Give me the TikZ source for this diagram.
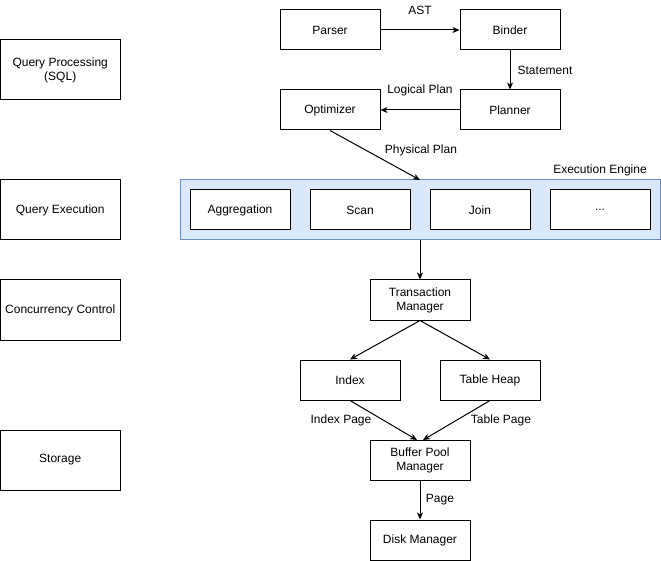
\documentclass[tikz,border=0pt]{standalone}
\usepackage{fontspec}
\setmainfont{Liberation Sans}
\usetikzlibrary{arrows.meta}
\definecolor{engfill}{HTML}{DAE8FC}
\definecolor{engdraw}{HTML}{6C8EBF}
\begin{document}
\begin{tikzpicture}[x=1pt,y=-1pt,
  font=\fontsize{12}{14}\selectfont,
  box/.style={draw=black,line width=1pt,fill=white,minimum width=100pt,minimum height=40pt,inner sep=0pt,align=center},
  layer/.style={box,minimum width=119.5pt,minimum height=60pt},
  lbl/.style={inner sep=0pt,align=center},
  conn/.style={line width=1pt,-{Stealth[length=7pt,width=6pt,inset=2pt]}}]
\useasboundingbox (0,0) rectangle (661,561);
% layer boxes
\node[layer] (qp) at (60.25,70) {Query Processing\\(SQL)};
\node[layer] (qe) at (60.25,210) {Query Execution};
\node[layer] (cc) at (60.25,310) {Concurrency Control};
\node[layer] (st) at (60.25,460) {Storage};
% query processing
\node[box] (parser) at (330,30) {Parser};
\node[box] (binder) at (510,30) {Binder};
\node[box] (optimizer) at (330,110) {Optimizer};
\node[box] (planner) at (510,110) {Planner};
% execution engine
\node[draw=engdraw,fill=engfill,line width=1pt,minimum width=480pt,minimum height=60pt,inner sep=0pt] (engine) at (420,210) {};
\node[lbl] (englbl) at (600,170) {Execution Engine};
\node[box] (agg) at (240,210) {Aggregation};
\node[box] (scan) at (360,210) {Scan};
\node[box] (join) at (480,210) {Join};
\node[box] (etc) at (600,210) {...};
% lower part
\node[box] (tm) at (420,300) {Transaction\\Manager};
\node[box] (index) at (350,380) {Index};
\node[box] (heap) at (490,380) {Table Heap};
\node[box] (bpm) at (420,460) {Buffer Pool\\Manager};
\node[box] (disk) at (420,540) {Disk Manager};
\coordinate (eng-top) at (420,180);
\coordinate (bpm-l) at (417,440);
\coordinate (bpm-r) at (423,440);
% connectors
\draw[conn] (parser.east) -- (binder.west);
\node[lbl] (ast) at (420,10) {AST};
\draw[conn] (binder.south) -- (planner.north);
\node[lbl] (stmt) at (545,70) {Statement};
\draw[conn] (planner.west) -- (optimizer.east);
\node[lbl] (logical) at (420,90) {Logical Plan};
\draw[conn] (optimizer.south) -- (eng-top);
\node[lbl] (physical) at (421,150) {Physical Plan};
\draw[conn] (engine.south) -- (tm.north);
\draw[conn] (tm.south) -- (index.north);
\draw[conn] (tm.south) -- (heap.north);
\draw[conn] (index.south) -- (bpm-l);
\draw[conn] (heap.south) -- (bpm-r);
\node[lbl] (ipage) at (341,420) {Index Page};
\node[lbl] (tpage) at (501,420) {Table Page};
\draw[conn] (bpm.south) -- (disk.north);
\node[lbl] (page) at (440,500) {Page};
\end{tikzpicture}
\end{document}
